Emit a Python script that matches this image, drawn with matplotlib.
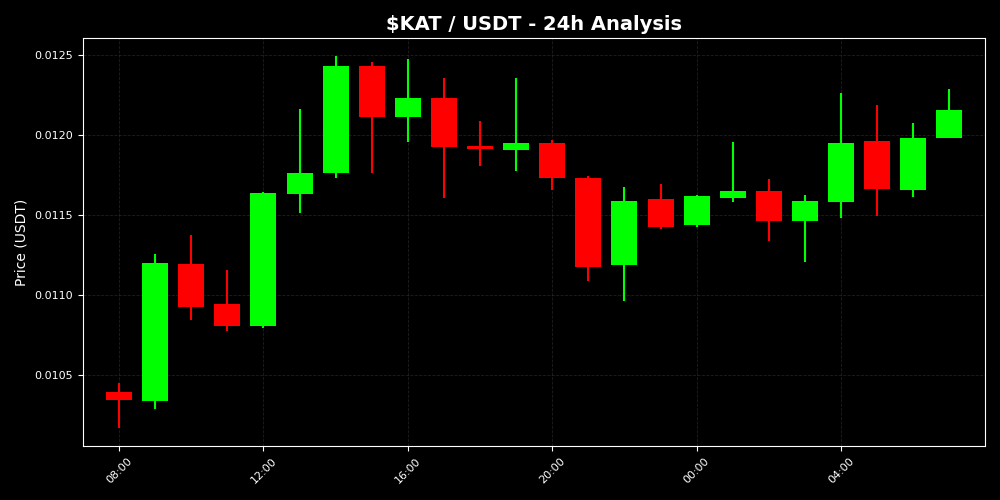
import numpy as np
import pandas as pd
import matplotlib
matplotlib.use('Agg')
import matplotlib.pyplot as plt
import matplotlib.dates as mdates

# hourly candles, 08:00 -> 07:00 next day
times = pd.date_range('2024-01-01 08:00', periods=24, freq='h')
opens = [0.010394, 0.010339, 0.011194, 0.010944, 0.010808, 0.011633, 0.011763, 0.012431,
         0.012113, 0.012231, 0.011933, 0.011906, 0.011952, 0.011733, 0.011188, 0.011600,
         0.011439, 0.011608, 0.011650, 0.011463, 0.011581, 0.011963, 0.011656, 0.011981]
closes = [0.010346, 0.011202, 0.010927, 0.010808, 0.011639, 0.011763, 0.012431, 0.012113,
          0.012231, 0.011927, 0.011910, 0.011952, 0.011733, 0.011175, 0.011588, 0.011427,
          0.011621, 0.011650, 0.011463, 0.011588, 0.011950, 0.011663, 0.011983, 0.012156]
highs = [0.010452, 0.011256, 0.011375, 0.011156, 0.011644, 0.012163, 0.012494, 0.012454,
         0.012475, 0.012354, 0.012088, 0.012354, 0.011969, 0.011744, 0.011675, 0.011694,
         0.011625, 0.011954, 0.011725, 0.011625, 0.012263, 0.012188, 0.012075, 0.012288]
lows = [0.010171, 0.010287, 0.010844, 0.010775, 0.010796, 0.011513, 0.011733, 0.011763,
        0.011958, 0.011608, 0.011808, 0.011777, 0.011656, 0.011089, 0.010964, 0.011411,
        0.011427, 0.011583, 0.011339, 0.011208, 0.011483, 0.011496, 0.011614, 0.011981]

fig = plt.figure(figsize=(10, 5), dpi=100, facecolor='black')
ax = fig.add_axes([0.083, 0.108, 0.902, 0.816])
ax.set_facecolor('black')

x = mdates.date2num(times)
width = 0.03  # days
for xi, o, c, h, l in zip(x, opens, closes, highs, lows):
    col = '#00ff00' if c >= o else '#ff0000'
    ax.vlines(xi, l, h, color=col, linewidth=1.5, zorder=2)
    body = max(abs(c - o), 0.000004)
    ax.bar(xi, body, width=width, bottom=min(o, c), color=col, zorder=3)

ax.set_xlim(x[0] - 1 / 24, x[-1] + 0.99 / 24)
ax.set_ylim(0.010056, 0.012606)
ax.set_yticks([0.0105, 0.0110, 0.0115, 0.0120, 0.0125])
ax.yaxis.set_major_formatter(plt.FormatStrFormatter('%.4f'))
ax.xaxis.set_major_locator(mdates.HourLocator(byhour=[0, 4, 8, 12, 16, 20]))
ax.xaxis.set_major_formatter(mdates.DateFormatter('%H:%M'))
plt.setp(ax.get_xticklabels(), rotation=45)

ax.grid(True, color='#333333', linestyle='--', linewidth=0.6, alpha=0.6)
ax.tick_params(colors='white', labelsize=8)
for s in ax.spines.values():
    s.set_color('white')

ax.set_ylabel('Price (USDT)', color='white', fontsize=10)
ax.set_title(r'\$KAT / USDT - 24h Analysis', color='white', fontsize=14, fontweight='bold')

fig.savefig('out.png', facecolor='black')
